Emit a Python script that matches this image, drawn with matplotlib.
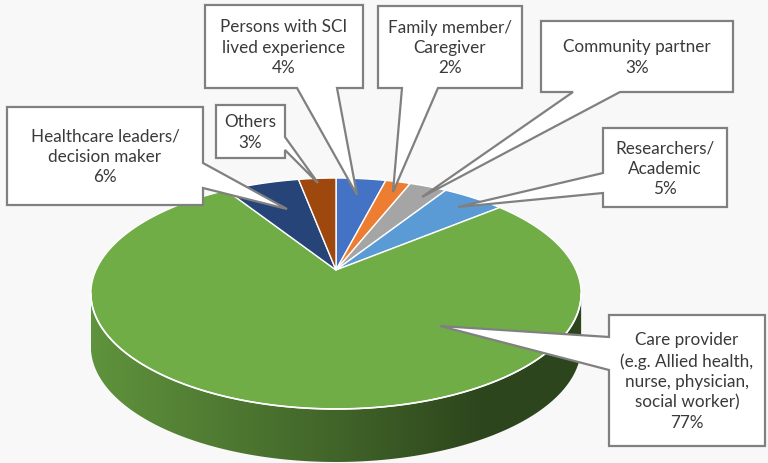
import numpy as np
import matplotlib
matplotlib.use("Agg")
import matplotlib.pyplot as plt
from matplotlib.patches import Polygon
from matplotlib.colors import to_rgb

# ---------------- data ----------------
categories = ["Persons with SCI\nlived experience", "Family member/\nCaregiver",
              "Community partner", "Researchers/\nAcademic",
              "Care provider\n(e.g. Allied health,\nnurse, physician,\nsocial worker)",
              "Healthcare leaders/\ndecision maker", "Others"]
values = [4, 2, 3, 5, 77, 6, 3]
colors = ["#4472C4", "#ED7D31", "#A5A5A5", "#5B9BD5", "#70AD47", "#264478", "#9E480E"]

# ---------------- layout (pixels) ----------------
W, H = 768, 463
CX, CY = 336, 270        # apex of the pie
A, B, K = 240.0, 110.7, 0.2035   # perspective ellipse params
THICK = 53
BG = "#f8f8f8"

# callout boxes: (x0, y0, x1, y1), side of tail, tail base range, tip point
boxes = [
    ((205, 5, 363, 88), "bottom", (297, 337), (357, 195)),
    ((378, 6, 522, 88), "bottom", (402, 438), (393, 192)),
    ((541, 21, 733, 92), "bottom", (573, 620), (422, 197)),
    ((603, 128, 727, 207), "left", (173, 193), (458, 207)),
    ((609, 315, 765, 446), "left", (337, 370), (440, 326)),
    ((7, 107, 203, 205), "right", (163, 188), (287, 209)),
    ((216, 105, 285, 158), "right", (137, 150), (318, 183)),
]


def proj(t_deg, r=1.0, dy=0.0):
    t = np.radians(t_deg)
    u = r * np.sin(t)
    v = r * np.cos(t)
    w = 1 + K * v
    return CX + A * u / w, CY - B * v / w + dy


fig = plt.figure(figsize=(W / 100, H / 100), dpi=100)
fig.patch.set_facecolor(BG)
ax = fig.add_axes([0, 0, 1, 1])
ax.set_xlim(0, W)
ax.set_ylim(H, 0)
ax.axis("off")
ax.set_facecolor(BG)

# angles
total = float(sum(values))
edges = np.concatenate([[0], np.cumsum(values)]) / total * 360.0

# ---------------- side wall ----------------
tv0 = np.degrees(np.arccos(-K))
tv1 = 360 - tv0
xl = min(proj(tv0)[0], proj(tv1)[0])
xr = max(proj(tv0)[0], proj(tv1)[0])
for i, (s, e) in enumerate(zip(edges[:-1], edges[1:])):
    a0, a1 = max(s, tv0), min(e, tv1)
    if a1 <= a0:
        continue
    ts = np.linspace(a0, a1, 200)
    xt, yt = proj(ts)
    xb, yb = proj(ts[::-1], dy=THICK)
    poly = np.column_stack([np.concatenate([xt, xb]), np.concatenate([yt, yb])])
    patch = Polygon(poly, closed=True, facecolor="none", edgecolor="none")
    ax.add_patch(patch)
    base = np.array(to_rgb(colors[i]))
    xs = np.linspace(0, 1, 256)
    fac = np.interp(xs, [0, 0.5, 0.8, 1.0], [0.85, 0.58, 0.40, 0.40])
    grad = base[None, :] * fac[:, None]
    img = np.tile(grad[None, :, :], (2, 1, 1))
    im = ax.imshow(img, extent=[xl, xr, CY + 250, 150], aspect="auto",
                   interpolation="bilinear", zorder=1)
    im.set_clip_path(patch)
    ax.plot(xt, yt, color="white", lw=1.2, zorder=3)

# ---------------- top face ----------------
for i, (s, e) in enumerate(zip(edges[:-1], edges[1:])):
    ts = np.linspace(s, e, max(4, int((e - s) * 2)))
    xa, ya = proj(ts)
    poly = np.column_stack([np.concatenate([[CX], xa]), np.concatenate([[CY], ya])])
    ax.add_patch(Polygon(poly, closed=True, facecolor=colors[i],
                         edgecolor="white", lw=1.0, zorder=2, joinstyle="round"))

# ---------------- callouts ----------------
for (label, val, (rect, side, (a, b), tip)) in zip(categories, values, boxes):
    x0, y0, x1, y1 = rect
    if side == "bottom":
        pts = [(x0, y0), (x1, y0), (x1, y1), (b, y1), tip, (a, y1), (x0, y1)]
    elif side == "right":
        pts = [(x0, y0), (x1, y0), (x1, a), tip, (x1, b), (x1, y1), (x0, y1)]
    else:
        pts = [(x0, y0), (x1, y0), (x1, y1), (x0, y1), (x0, b), tip, (x0, a)]
    ax.add_patch(Polygon(pts, closed=True, facecolor="white", edgecolor="#808080",
                         lw=1.6, zorder=5, joinstyle="miter"))
    ax.text((x0 + x1) / 2, (y0 + y1) / 2 + 1, f"{label}\n{val}%", ha="center",
            va="center", multialignment="center", fontsize=12.3,
            family=["Lato", "DejaVu Sans"], color="#3a3a3a", linespacing=1.33,
            zorder=6)

fig.savefig("out.png", dpi=100, facecolor=BG)
